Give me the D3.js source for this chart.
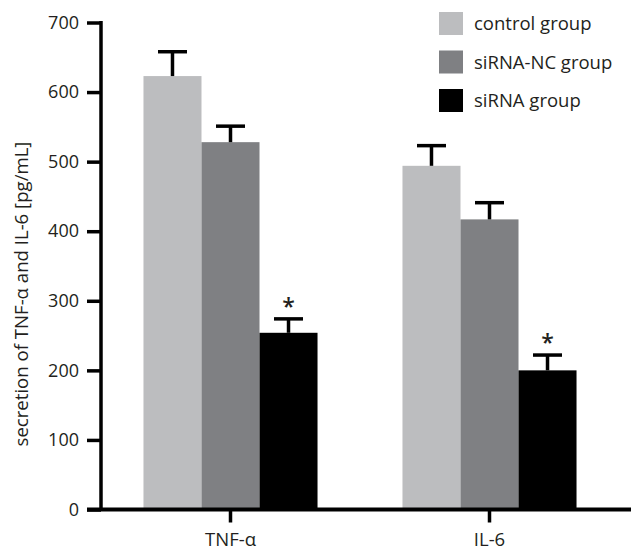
<!DOCTYPE html>
<html>
<head>
<meta charset="utf-8">
<script src="https://cdn.jsdelivr.net/npm/d3@7"></script>
<style>
  body { margin: 0; background: #fff; }
  text { font-family: "Open Sans", sans-serif; fill: #231f20; }
</style>
</head>
<body>
<svg id="chart" width="631" height="551"></svg>
<script>
var categories = ["TNF-α", "IL-6"];
var groups = ["control group", "siRNA-NC group", "siRNA group"];
var colors = ["#bcbdbf", "#7f8083", "#000000"];
// mean values and upper error, per group, in category order
var control_values = [623, 494];
var control_errors = [35, 29];
var nc_values = [528, 417];
var nc_errors = [23, 24];
var sirna_values = [254, 200];
var sirna_errors = [20, 22];
var significant = [false, false, true];
var y_ticks = [0, 100, 200, 300, 400, 500, 600, 700];

var rows = [];
var all_values = [control_values, nc_values, sirna_values];
var all_errors = [control_errors, nc_errors, sirna_errors];
categories.forEach(function(c, ci) {
  groups.forEach(function(g, gi) {
    rows.push({cat: c, group: g, gi: gi, value: all_values[gi][ci], err: all_errors[gi][ci]});
  });
});

function draw_chart() {
  var svg = d3.select("#chart");
  svg.selectAll("*").remove();

  var y = d3.scaleLinear().domain([0, 700]).range([509.5, 22.5]);
  var x = d3.scaleBand().domain(categories).range([101, 619])
    .paddingInner(0.328).paddingOuter(0.164);
  var xg = d3.scaleBand().domain(groups).range([0, x.bandwidth()]);
  var bw = xg.bandwidth();

  // bars
  svg.append("g").selectAll("rect").data(rows).join("rect")
    .attr("x", function(d) { return x(d.cat) + xg(d.group); })
    .attr("y", function(d) { return y(d.value); })
    .attr("width", bw)
    .attr("height", function(d) { return y(0) - y(d.value); })
    .attr("fill", function(d) { return colors[d.gi]; });

  // error bars (upper only)
  var eb = svg.append("g").attr("stroke", "#000").attr("stroke-width", 3.5);
  eb.selectAll("line.stem").data(rows).join("line")
    .attr("class", "stem")
    .attr("x1", function(d) { return x(d.cat) + xg(d.group) + bw / 2; })
    .attr("x2", function(d) { return x(d.cat) + xg(d.group) + bw / 2; })
    .attr("y1", function(d) { return y(d.value); })
    .attr("y2", function(d) { return y(d.value + d.err); });
  eb.selectAll("line.cap").data(rows).join("line")
    .attr("class", "cap")
    .attr("x1", function(d) { return x(d.cat) + xg(d.group) + bw / 4; })
    .attr("x2", function(d) { return x(d.cat) + xg(d.group) + bw * 3 / 4; })
    .attr("y1", function(d) { return y(d.value + d.err); })
    .attr("y2", function(d) { return y(d.value + d.err); });

  // significance stars
  svg.append("g").selectAll("text").data(rows.filter(function(d) { return significant[d.gi]; }))
    .join("text")
    .attr("x", function(d) { return x(d.cat) + xg(d.group) + bw / 2; })
    .attr("y", function(d) { return y(d.value + d.err) - 4; })
    .attr("text-anchor", "middle")
    .style("font-size", "23px")
    .style("font-weight", "600")
    .text("*");

  // y axis
  var ya = svg.append("g").attr("transform", "translate(101,0)")
    .call(d3.axisLeft(y).tickValues(y_ticks).tickSize(14).tickSizeOuter(0).tickPadding(8));
  ya.select(".domain").attr("stroke-width", 3.5).attr("d", "M0," + (y(0) + 1.5) + "V" + (y(700) - 1.5));
  ya.selectAll(".tick line").attr("stroke-width", 3.5);
  ya.selectAll(".tick text").style("font-size", "18px").attr("font-family", null).attr("fill", "#231f20");

  // x axis
  var xa = svg.append("g").attr("transform", "translate(0," + y(0) + ")")
    .call(d3.axisBottom(x).tickSize(13).tickSizeOuter(0).tickPadding(8));
  xa.select(".domain").remove();
  xa.append("line").attr("x1", 87).attr("x2", 631).attr("stroke", "#000").attr("stroke-width", 4);
  xa.selectAll(".tick line").attr("stroke-width", 3.5);
  xa.selectAll(".tick text").style("font-size", "18.5px").attr("font-family", null).attr("fill", "#231f20")
    .attr("dy", null).attr("y", 36);

  // y title
  svg.append("text")
    .attr("transform", "translate(27.5,294) rotate(-90)")
    .attr("text-anchor", "middle")
    .style("font-size", "18.6px")
    .text("secretion of TNF-α and IL-6 [pg/mL]");

  // legend
  var lg = svg.append("g").attr("transform", "translate(439,12)");
  var item = lg.selectAll("g").data(groups).join("g")
    .attr("transform", function(d, i) { return "translate(0," + i * 38.5 + ")"; });
  item.append("rect").attr("width", 24).attr("height", 23)
    .attr("fill", function(d, i) { return colors[i]; });
  item.append("text").attr("x", 35).attr("y", 18)
    .style("font-size", "18.5px").text(function(d) { return d; });
}

draw_chart();
</script>
</body>
</html>
